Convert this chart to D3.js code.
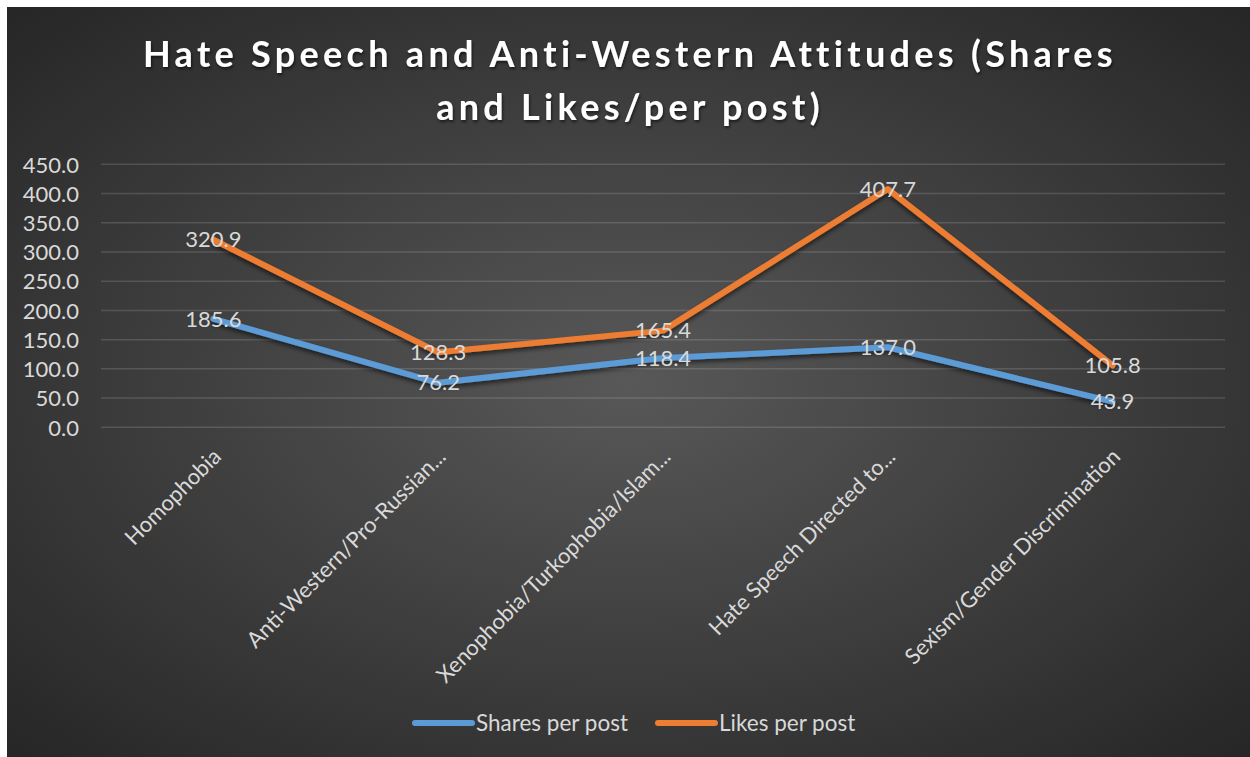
<!DOCTYPE html>
<html>
<head>
<meta charset="utf-8">
<script src="https://cdn.jsdelivr.net/npm/d3@7"></script>
<style>
  body { margin: 0; background: #fff; }
  svg { display: block; }
  text { font-family: Lato, "Open Sans", sans-serif; }
</style>
</head>
<body>
<svg id="chart" width="1250" height="757"></svg>
<script>
// data
var categories = ["Homophobia", "Anti-Western/Pro-Russian...", "Xenophobia/Turkophobia/Islam...",
                  "Hate Speech Directed to...", "Sexism/Gender Discrimination"];
var sharesPerPost = [185.6, 76.2, 118.4, 137.0, 43.9];
var likesPerPost = [320.9, 128.3, 165.4, 407.7, 105.8];
var yTicks = [0, 50, 100, 150, 200, 250, 300, 350, 400, 450];
var seriesNames = ["Shares per post", "Likes per post"];

var svg = d3.select("#chart");
var defs = svg.append("defs");

var grad = defs.append("radialGradient").attr("id", "bg")
    .attr("cx", "50%").attr("cy", "50%").attr("r", "72%");
grad.append("stop").attr("offset", "0%").attr("stop-color", "#585858");
grad.append("stop").attr("offset", "100%").attr("stop-color", "#252525");

var shadow = defs.append("filter").attr("id", "shadow")
    .attr("x", "-10%").attr("y", "-10%").attr("width", "120%").attr("height", "130%");
shadow.append("feDropShadow").attr("dx", 0).attr("dy", 3).attr("stdDeviation", 2)
    .attr("flood-color", "#000").attr("flood-opacity", 0.55);

var tshadow = defs.append("filter").attr("id", "tshadow");
tshadow.append("feDropShadow").attr("dx", 1).attr("dy", 2).attr("stdDeviation", 1.5)
    .attr("flood-color", "#000").attr("flood-opacity", 0.6);

svg.append("rect").attr("x", 7).attr("y", 7).attr("width", 1243).attr("height", 750)
    .attr("fill", "url(#bg)");

// title
var title = svg.append("text").attr("text-anchor", "middle")
    .attr("fill", "#fff").attr("font-size", 36).attr("font-weight", "bold")
    .attr("letter-spacing", 4.3).attr("filter", "url(#tshadow)");
title.append("tspan").attr("x", 630).attr("y", 67).text("Hate Speech and Anti-Western Attitudes (Shares");
title.append("tspan").attr("x", 630).attr("y", 120).text("and Likes/per post)");

var x = d3.scalePoint().domain(categories).range([101, 1225]).padding(0.5);
var y = d3.scaleLinear().domain([0, 450]).range([427.3, 164.3]);

// gridlines
svg.append("g")
  .selectAll("line").data(yTicks).join("line")
    .attr("x1", 101).attr("x2", 1225)
    .attr("y1", d => y(d)).attr("y2", d => y(d))
    .attr("stroke", "#ffffff").attr("stroke-opacity", 0.14).attr("stroke-width", 1.5);

// y axis labels
var yAxis = d3.axisLeft(y).tickValues(yTicks).tickFormat(d3.format(".1f")).tickSize(0).tickPadding(0);
var gy = svg.append("g").attr("transform", "translate(79,0)").call(yAxis);
gy.select(".domain").remove();
gy.selectAll("text").attr("fill", "#d9d9d9").attr("font-size", 22)
    .attr("font-family", "Lato, 'Open Sans', sans-serif").attr("dy", "0.35em");

// x axis labels, rotated 45deg, ending just right of the category
svg.append("g")
  .selectAll("text").data(categories).join("text")
    .attr("transform", d => "translate(" + (x(d) + 9) + ",458) rotate(-45)")
    .attr("text-anchor", "end")
    .attr("fill", "#d9d9d9").attr("font-size", 22)
    .text(d => d);

var line = d3.line().x((d, i) => x(categories[i])).y(d => y(d));

var series = [
  { name: seriesNames[0], values: sharesPerPost, color: "#5b9bd5" },
  { name: seriesNames[1], values: likesPerPost, color: "#ed7d31" }
];

series.forEach(function (s) {
  svg.append("path").datum(s.values)
    .attr("d", line)
    .attr("fill", "none").attr("stroke", s.color).attr("stroke-width", 6)
    .attr("stroke-linejoin", "round").attr("stroke-linecap", "round")
    .attr("filter", "url(#shadow)");
});

series.forEach(function (s) {
  svg.append("g")
    .selectAll("text").data(s.values).join("text")
      .attr("x", (d, i) => x(categories[i]))
      .attr("y", d => y(d))
      .attr("dy", "0.35em")
      .attr("text-anchor", "middle")
      .attr("fill", "#d9d9d9").attr("font-size", 22)
      .text(d => d.toFixed(1));
});

// legend
var legend = svg.append("g").attr("transform", "translate(415,723)");
var lx = 0;
series.forEach(function (s) {
  var g = legend.append("g").attr("transform", "translate(" + lx + ",0)");
  g.append("line").attr("x1", 0).attr("x2", 57).attr("y1", 0).attr("y2", 0)
    .attr("stroke", s.color).attr("stroke-width", 6).attr("stroke-linecap", "round");
  var t = g.append("text").attr("x", 61).attr("y", 0).attr("dy", "0.35em")
    .attr("fill", "#d9d9d9").attr("font-size", 22.5).text(s.name);
  lx += 61 + t.node().getComputedTextLength() + 30;
});
</script>
</body>
</html>
